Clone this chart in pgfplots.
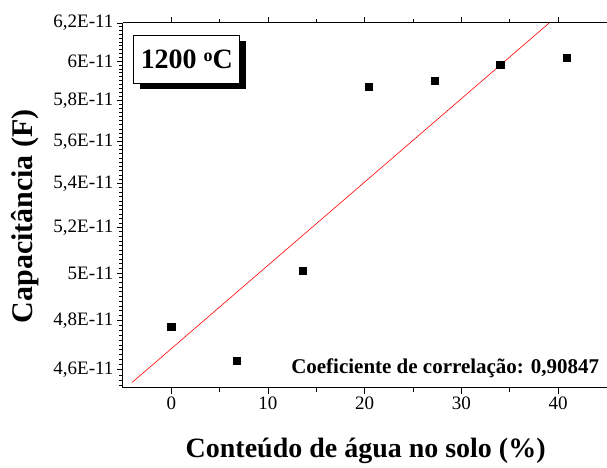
\documentclass[border=0pt]{standalone}
\usepackage{pgfplots}
\pgfplotsset{compat=1.18}
\usepackage{fontspec}
\setmainfont{Liberation Serif}

\begin{document}
\begin{tikzpicture}
\begin{axis}[
    scale only axis,
    width=484pt, height=365pt,
    xmin=-5, xmax=45,
    ymin=4.53, ymax=6.2,
    ymode=log,
    axis x line*=box,
    axis y line*=left,
    axis line style={line width=1pt, black},
    tick align=outside,
    tick style={black, line width=0.8pt},
    major tick length=6pt,
    xtick={0,10,20,30,40},
    xtick pos=both,
    extra x ticks={5,15,25,35},
    extra x tick labels={},
    extra x tick style={major tick length=4pt},
    ytick={4.6,4.8,5,5.2,5.4,5.6,5.8,6,6.2},
    yticklabels={{4,6E-11},{4,8E-11},5E-11,{5,2E-11},{5,4E-11},{5,6E-11},{5,8E-11},6E-11,{6,2E-11}},
    extra y ticks={4.54,4.56,4.58,4.62,4.64,4.66,4.68,4.70,4.72,4.74,4.76,4.78,4.82,4.84,4.86,4.88,4.90,4.92,4.94,4.96,4.98,5.02,5.04,5.06,5.08,5.10,5.12,5.14,5.16,5.18,5.22,5.24,5.26,5.28,5.30,5.32,5.34,5.36,5.38,5.42,5.44,5.46,5.48,5.50,5.52,5.54,5.56,5.58,5.62,5.64,5.66,5.68,5.70,5.72,5.74,5.76,5.78,5.82,5.84,5.86,5.88,5.90,5.92,5.94,5.96,5.98,6.02,6.04,6.06,6.08,6.10,6.12,6.14,6.16,6.18},
    extra y tick labels={},
    extra y tick style={major tick length=4pt, tick style={line width=0.6pt}},
    /pgf/number format/assume math mode=true,
    ticklabel style={font=\fontsize{19}{22}\selectfont},
    xlabel={Conteúdo de água no solo (\%)},
    ylabel={Capacitância (F)},
    every axis x label/.style={at={(axis description cs:0.502,-0.192)}, anchor=base, font=\fontsize{28}{32}\selectfont\bfseries},
    every axis y label/.style={at={(axis description cs:-0.2025,0.47)}, rotate=90, anchor=center, font=\fontsize{30}{34}\selectfont\bfseries},
]
\coordinate (bl) at (rel axis cs:0,0);
\coordinate (tr) at (rel axis cs:1,1);

% ajuste linear
\addplot[red, line width=0.6pt] coordinates {(-4.03,4.551) (39.08,6.2)};

% pontos medidos
\addplot[only marks, mark=square*, mark size=3.6pt, black] coordinates {
    (0,4.775) (6.78,4.637) (13.6,5.01) (20.41,5.869)
    (27.23,5.90) (34.0,5.98) (40.87,6.017)
};

\fill[black] (rel axis cs:0.0351,0.8192) rectangle (rel axis cs:0.2541,0.9506);
\filldraw[fill=white, draw=black, line width=0.8pt] (rel axis cs:0.0227,0.8356) rectangle (rel axis cs:0.2417,0.967);
\node[font=\fontsize{28}{32}\selectfont\bfseries] at (rel axis cs:0.1322,0.9013) {1200 \raisebox{0.55ex}{\fontsize{18}{20}\selectfont o}C};

\node[anchor=base east, font=\fontsize{21}{24}\selectfont\bfseries] at (axis cs:44.6,4.584) {Coeficiente de correlação: 0,90847};
\end{axis}
\path[use as bounding box] ([xshift=-123pt,yshift=-74pt]bl) rectangle ([yshift=23pt]tr);
\end{tikzpicture}
\end{document}
